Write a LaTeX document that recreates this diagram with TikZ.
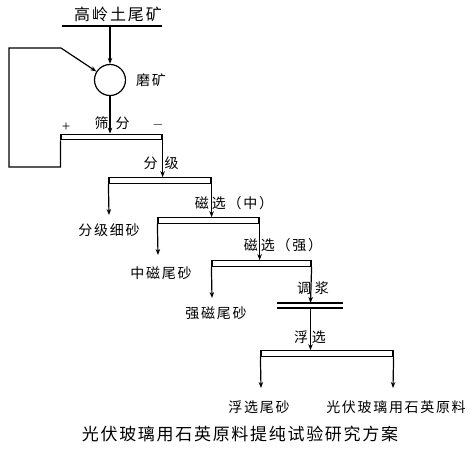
\documentclass[tikz,border=0pt]{standalone}
\usepackage{fontspec}
\setmainfont{Liberation Serif}
\newfontfamily\cjk[LetterSpace=12]{Noto Sans CJK SC}
\newfontfamily\cjkcap[LetterSpace=10]{Noto Sans CJK SC}
\usetikzlibrary{arrows.meta}
\tikzset{
  flow/.style={line width=1.2pt},
  arr/.style={flow,-{Stealth[length=6pt,width=4.5pt]}},
  barbox/.style={draw,line width=1.2pt,inner sep=0pt,minimum height=5.5pt},
  lbl/.style={font=\cjk\fontsize{14}{14}\selectfont,inner sep=0pt},
  bigtxt/.style={font=\cjk\fontsize{16}{16}\selectfont,inner sep=0pt},
  captxt/.style={font=\cjkcap\fontsize{17}{18}\selectfont,inner sep=0pt}
}
\begin{document}
\begin{tikzpicture}[x=1pt,y=-1pt]
\useasboundingbox (0,0) rectangle (476,448);
% feed
\node[bigtxt] (feedtxt) at (118,14) {高岭土尾矿};
\coordinate (feedL) at (62,26);
\coordinate (feedR) at (162,26);
\coordinate (feedM) at (110,26);
\draw[flow] (feedL) -- (feedR);
\node[circle,draw,line width=1.2pt,minimum size=31pt,inner sep=0pt] (mill) at (110,80) {};
\node[lbl] (milltxt) at (151,80) {磨矿};
\draw[arr] (feedM) -- (mill);
% screen
\node[barbox,minimum width=101pt] (scr) at (111.5,137) {};
\draw[arr] (mill.south) -- (mill.south |- scr.north);
\node[lbl] (scrtxt) at (112,123) {筛\hspace{7pt}分};
\node[font=\fontsize{15}{15}\selectfont,inner sep=0pt] (plus) at (66,127) {+};
\node[font=\fontsize{15}{15}\selectfont,inner sep=0pt] (minus) at (158,125) {$-$};
% recycle loop
\coordinate (lpB) at (9,167);
\coordinate (lpT) at (9,48);
\coordinate (lpD) at (61,48);
\draw[arr] (scr.south west) |- (lpB) -- (lpT) -- (lpD) -- (mill.148);
% classification
\node[barbox,minimum width=102pt] (b1) at (160,180.5) {};
\draw[arr] (scr.south east) -- (scr.south east |- b1.north);
\node[lbl] (b1txt) at (161,163) {分\hspace{7pt}级};
\coordinate (o1) at (109,215);
\draw[arr] (b1.south west) -- (o1);
\node[lbl] (o1txt) at (109,230) {分级细砂};
% magnetic (medium)
\node[barbox,minimum width=101pt] (b2) at (208.5,220.5) {};
\draw[arr] (b1.south east) -- (b1.south east |- b2.north);
\node[lbl] (b2txt) at (234,203) {磁\hspace{3pt}选（中）};
\coordinate (o2) at (158,255);
\draw[arr] (b2.south west) -- (o2);
\node[lbl] (o2txt) at (161,273) {中磁尾砂};
% magnetic (strong)
\node[barbox,minimum width=99pt] (b3) at (261.5,263.5) {};
\draw[arr] (b2.south east) -- (b2.south east |- b3.north);
\node[lbl] (b3txt) at (283,245) {磁\hspace{3pt}选（强）};
\coordinate (o3) at (212,298);
\draw[arr] (b3.south west) -- (o3);
\node[lbl] (o3txt) at (216,313) {强磁尾砂};
% conditioning
\coordinate (c1L) at (277,303);
\coordinate (c1R) at (343,303);
\coordinate (c2L) at (277,308);
\coordinate (c2R) at (343,308);
\draw[flow] (c1L) -- (c1R);
\draw[flow] (c2L) -- (c2R);
\coordinate (c1M) at (310.5,303);
\coordinate (c2M) at (310.5,308);
\draw[arr] (b3.south east) -- (c1M);
\node[lbl] (ctxt) at (313,288) {调\hspace{4pt}浆};
% flotation
\node[barbox,minimum width=132pt] (b4) at (327,353.5) {};
\draw[arr] (c2M) -- (c2M |- b4.north);
\node[lbl] (b4txt) at (310,337) {浮\hspace{4pt}选};
\coordinate (o4) at (261,388);
\coordinate (o5) at (393,388);
\draw[arr] (b4.south west) -- (o4);
\draw[arr] (b4.south east) -- (o5);
\node[lbl] (o4txt) at (259,407) {浮选尾砂};
\node[lbl] (o5txt) at (396,407) {光伏玻璃用石英原料};
% caption
\node[captxt] (caption) at (240,434) {光伏玻璃用石英原料提纯试验研究方案};
\end{tikzpicture}
\end{document}
